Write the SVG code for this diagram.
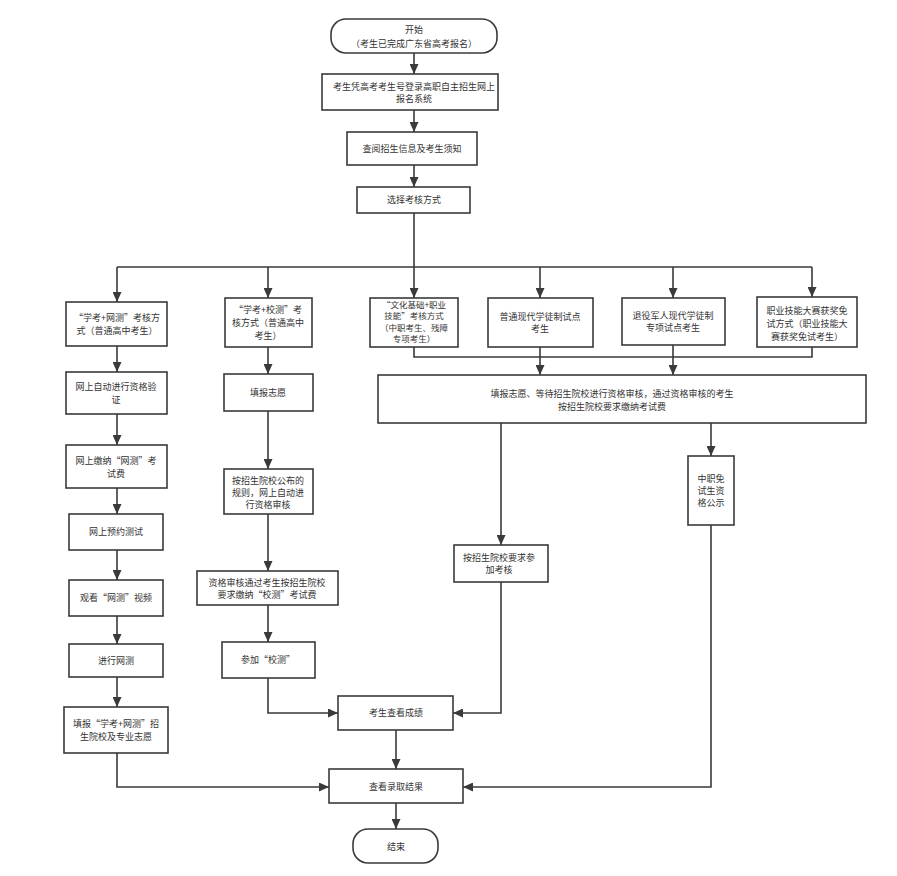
<svg xmlns="http://www.w3.org/2000/svg" width="897" height="876" viewBox="0 0 897 876">
<defs>
<marker id="ah" markerUnits="userSpaceOnUse" markerWidth="10" markerHeight="9" refX="10" refY="4.5" orient="auto">
<path d="M0,0 L10,4.5 L0,9 z" fill="#3a3a3a"/>
</marker>
</defs>
<style>
.b{fill:#fff;stroke:#3a3a3a;stroke-width:1.6}
.t{font-family:"Noto Sans CJK SC","Liberation Sans",sans-serif;font-size:9px;fill:#333;text-anchor:middle}
.s{font-size:8.5px}
.c path{fill:none;stroke:#3a3a3a;stroke-width:1.6}
.c path.a{marker-end:url(#ah)}
</style>
<rect width="897" height="876" fill="#fff"/>
<g class="c" id="connectors">
<path class="a" d="M414,53 V74"/>
<path class="a" d="M414,110 V132"/>
<path class="a" d="M414,165 V187"/>
<path d="M414,213 V267 M117,267 H812"/>
<path class="a" d="M117,267 V302"/>
<path class="a" d="M268,267 V298"/>
<path class="a" d="M414,267 V298"/>
<path class="a" d="M540,267 V298"/>
<path class="a" d="M673,267 V298"/>
<path class="a" d="M812,267 V297"/>
<path d="M414,347 V357 H812 V347"/>
<path class="a" d="M540,347 V375"/>
<path class="a" d="M673,345 V375"/>
<path class="a" d="M501,423 V545"/>
<path class="a" d="M711,423 V456"/>
<path class="a" d="M117,346 V372"/>
<path class="a" d="M117,414 V445"/>
<path class="a" d="M117,488 V514"/>
<path class="a" d="M117,550 V580"/>
<path class="a" d="M117,616 V644"/>
<path class="a" d="M117,677 V707"/>
<path class="a" d="M117,753 V787 H329"/>
<path class="a" d="M268,347 V374"/>
<path class="a" d="M268,411 V469"/>
<path class="a" d="M268,514 V571"/>
<path class="a" d="M268,605 V642"/>
<path class="a" d="M268,678 V713 H338"/>
<path class="a" d="M501,582 V713 H453"/>
<path class="a" d="M711,525 V787 H463"/>
<path class="a" d="M396,730 V769"/>
<path class="a" d="M396,803 V829"/>
</g>
<g id="start"><rect class="b" x="331" y="19" width="166" height="34" rx="15"/><text class="t" x="414" y="33">开始</text><text class="t" x="414" y="47">（考生已完成广东省高考报名）</text></g>
<g id="login"><rect class="b" x="322" y="74" width="176" height="36"/><text class="t" x="414" y="90">考生凭高考考生号登录高职自主招生网上</text><text class="t" x="414" y="102">报名系统</text></g>
<g id="info"><rect class="b" x="347" y="132" width="130" height="33"/><text class="t" x="412" y="152">查阅招生信息及考生须知</text></g>
<g id="choose"><rect class="b" x="357" y="187" width="113" height="26"/><text class="t" x="414" y="203">选择考核方式</text></g>
<g id="a1"><rect class="b" x="66" y="302" width="101" height="44"/><text class="t" x="117" y="321">“学考+网测”考核方</text><text class="t" x="117" y="334">式（普通高中考生）</text></g>
<g id="b1"><rect class="b" x="225" y="298" width="87" height="49"/><text class="t" x="268" y="313">“学考+校测”考</text><text class="t" x="268" y="326">核方式（普通高中</text><text class="t" x="268" y="339">考生）</text></g>
<g id="c1"><rect class="b" x="370" y="298" width="88" height="49"/><text class="t s" x="414" y="307.5">“文化基础+职业</text><text class="t s" x="414" y="319">技能”考核方式</text><text class="t s" x="414" y="330.5">（中职考生、残障</text><text class="t s" x="414" y="342">专项考生）</text></g>
<g id="d1"><rect class="b" x="488" y="298" width="105" height="49"/><text class="t" x="540" y="320">普通现代学徒制试点</text><text class="t" x="540" y="332">考生</text></g>
<g id="e1"><rect class="b" x="622" y="298" width="103" height="47"/><text class="t" x="673" y="319">退役军人现代学徒制</text><text class="t" x="673" y="331">专项试点考生</text></g>
<g id="f1"><rect class="b" x="757" y="297" width="100" height="50"/><text class="t" x="807" y="314">职业技能大赛获奖免</text><text class="t" x="807" y="327">试方式（职业技能大</text><text class="t" x="807" y="340">赛获奖免试考生）</text></g>
<g id="g"><rect class="b" x="378" y="375" width="488" height="48"/><text class="t" x="612" y="397">填报志愿、等待招生院校进行资格审核，通过资格审核的考生</text><text class="t" x="612" y="410">按招生院校要求缴纳考试费</text></g>
<g id="h"><rect class="b" x="454" y="545" width="94" height="37"/><text class="t" x="499" y="561">按招生院校要求参</text><text class="t" x="499" y="573">加考核</text></g>
<g id="i"><rect class="b" x="688" y="456" width="46" height="69"/><text class="t" x="711" y="482">中职免</text><text class="t" x="711" y="494">试生资</text><text class="t" x="711" y="506">格公示</text></g>
<g id="a2"><rect class="b" x="66" y="372" width="101" height="42"/><text class="t" x="116" y="390">网上自动进行资格验</text><text class="t" x="116" y="403">证</text></g>
<g id="a3"><rect class="b" x="66" y="445" width="101" height="43"/><text class="t" x="116" y="464">网上缴纳“网测”考</text><text class="t" x="116" y="477">试费</text></g>
<g id="a4"><rect class="b" x="69" y="514" width="94" height="36"/><text class="t" x="116" y="535">网上预约测试</text></g>
<g id="a5"><rect class="b" x="69" y="580" width="94" height="36"/><text class="t" x="116" y="601">观看“网测”视频</text></g>
<g id="a6"><rect class="b" x="69" y="644" width="94" height="33"/><text class="t" x="116" y="664">进行网测</text></g>
<g id="a7"><rect class="b" x="64" y="707" width="104" height="46"/><text class="t" x="116" y="727">填报“学考+网测”招</text><text class="t" x="116" y="740">生院校及专业志愿</text></g>
<g id="b2"><rect class="b" x="224" y="374" width="89" height="37"/><text class="t" x="268" y="396">填报志愿</text></g>
<g id="b3"><rect class="b" x="224" y="469" width="89" height="45"/><text class="t" x="268" y="484">按招生院校公布的</text><text class="t" x="268" y="496">规则，网上自动进</text><text class="t" x="268" y="508">行资格审核</text></g>
<g id="b4"><rect class="b" x="197" y="571" width="141" height="34"/><text class="t" x="267" y="586">资格审核通过考生按招生院校</text><text class="t" x="267" y="598">要求缴纳“校测”考试费</text></g>
<g id="b5"><rect class="b" x="222" y="642" width="93" height="36"/><text class="t" x="268" y="663">参加“校测”</text></g>
<g id="score"><rect class="b" x="338" y="696" width="115" height="34"/><text class="t" x="396" y="716">考生查看成绩</text></g>
<g id="result"><rect class="b" x="329" y="769" width="134" height="34"/><text class="t" x="396" y="790">查看录取结果</text></g>
<g id="end"><rect class="b" x="353" y="829" width="85" height="34" rx="15"/><text class="t" x="396" y="850">结束</text></g>
</svg>
